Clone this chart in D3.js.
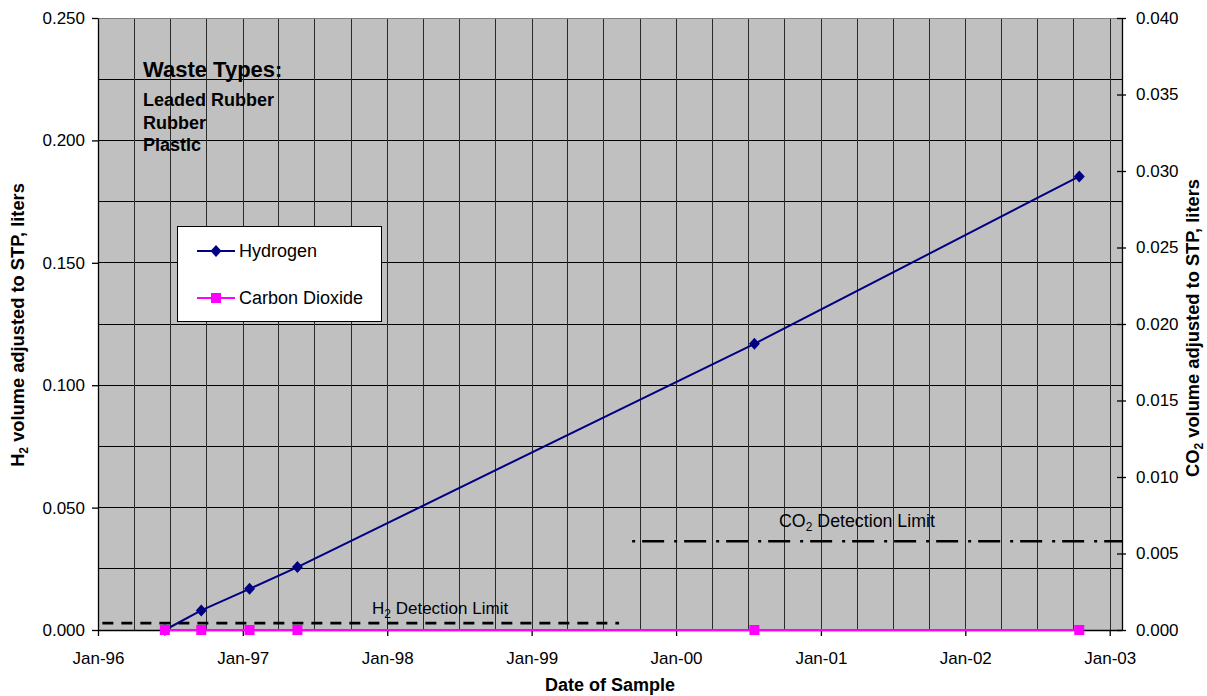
<!DOCTYPE html>
<html><head><meta charset="utf-8">
<script src="https://cdn.jsdelivr.net/npm/d3@7"></script>
<style>
body{margin:0;background:#fff}
svg{display:block}
text{font-family:Arial,"Liberation Sans",sans-serif;fill:#000}
</style></head>
<body><svg id="chart" width="1207" height="696"></svg>
<script>
// ---- data ----
const sampleDates = ["1996-06-18","1996-09-18","1997-01-18","1997-05-19","2000-07-17","2002-10-16"];
const hydrogen = [0.0000, 0.0080, 0.0168, 0.0257, 0.1169, 0.1853];
const carbonDioxide = [0, 0, 0, 0, 0, 0];
const h2LimitDates = ["1996-01-12","1999-08-10"];
const h2LimitValue = 0.0028;
const co2LimitDates = ["1999-09-12","2003-02-01"];
const co2LimitValue = 0.0058;
const xDomain = ["1996-01-01","2003-02-01"];
const xTickDates = ["1996-01-01","1997-01-01","1998-01-01","1999-01-01","2000-01-01","2001-01-01","2002-01-01","2003-01-01"];
const leftTicks = [0, 0.05, 0.10, 0.15, 0.20, 0.25];
const leftGrid = [0.025, 0.05, 0.075, 0.10, 0.125, 0.15, 0.175, 0.20, 0.225];
const rightTicks = [0, 0.005, 0.010, 0.015, 0.020, 0.025, 0.030, 0.035, 0.040];
const seriesNames = ["Hydrogen", "Carbon Dioxide"];
const wasteTitle = "Waste Types:";
const wasteTypes = ["Leaded Rubber", "Rubber", "Plastic"];

// ---- setup ----
const parse = d3.timeParse("%Y-%m-%d");
const svg = d3.select("#chart");
const L = 98, R = 1122, T = 18, B = 630;

const x = d3.scaleTime().domain(xDomain.map(parse)).range([L, R]);
const yL = d3.scaleLinear().domain([0, 0.25]).range([B, T]);
const yR = d3.scaleLinear().domain([0, 0.04]).range([B, T]);

// plot background
svg.append("rect").attr("x", L).attr("y", T).attr("width", R - L).attr("height", B - T).attr("fill", "#C0C0C0");

// gridlines
svg.append("g").selectAll("line").data(leftGrid).join("line")
  .attr("x1", L).attr("x2", R).attr("y1", d => yL(d)).attr("y2", d => yL(d))
  .attr("stroke", "#000").attr("stroke-width", 1).attr("shape-rendering", "crispEdges");
const quarterLines = d3.timeMonth.every(3).range(parse(xDomain[0]), parse(xDomain[1])).slice(1);
svg.append("g").selectAll("line").data(quarterLines).join("line")
  .attr("x1", d => Math.round(x(d)) + 0.5).attr("x2", d => Math.round(x(d)) + 0.5).attr("y1", T).attr("y2", B)
  .attr("stroke", "#2a2a2a").attr("stroke-width", 1);

// top border
svg.append("line").attr("x1", L).attr("x2", R).attr("y1", T + 0.5).attr("y2", T + 0.5).attr("stroke", "#808080");

// axes
const axL = svg.append("g").attr("transform", `translate(${L},0)`)
  .call(d3.axisLeft(yL).tickValues(leftTicks).tickFormat(d3.format(".3f")).tickSize(6).tickSizeOuter(0));
axL.selectAll("text").attr("x", -13).style("font-size", "17px");
const axR = svg.append("g").attr("transform", `translate(${R},0)`)
  .call(d3.axisRight(yR).tickValues(rightTicks).tickFormat(d3.format(".3f")).tickSize(4).tickSizeOuter(0));
axR.selectAll(".tick line").attr("x1", -5).attr("x2", 4);
axR.selectAll("text").attr("x", 14).style("font-size", "17px");
const axB = svg.append("g").attr("transform", `translate(0,${B})`)
  .call(d3.axisBottom(x).tickValues(xTickDates.map(parse)).tickFormat(d3.timeFormat("%b-%y")).tickSize(6).tickSizeOuter(0));
axB.selectAll("text").attr("y", 34).attr("dy", 0).style("font-size", "17px");
[axL, axR, axB].forEach(a => {
  a.attr("font-family", null).attr("font-size", null);
  a.selectAll("line,path").attr("stroke", "#000").attr("stroke-width", 1.3);
});

// detection limits
const limLine = d3.line().x(d => x(d.date)).y(d => d.y);
svg.append("path")
  .attr("d", limLine(h2LimitDates.map(s => ({date: parse(s), y: yL(h2LimitValue)}))))
  .attr("fill", "none").attr("stroke", "#000").attr("stroke-width", 2.6).attr("stroke-dasharray", "11,8");
svg.append("path")
  .attr("d", limLine(co2LimitDates.map(s => ({date: parse(s), y: yR(co2LimitValue)}))))
  .attr("fill", "none").attr("stroke", "#000").attr("stroke-width", 2.6).attr("stroke-dasharray", "3,7,22,10");

function subText(g, xPos, yPos, pre, sub, post, size, weight, anchor, transform) {
  const t = g.append("text").style("font-size", size + "px").style("font-weight", weight);
  if (transform) t.attr("transform", transform); else t.attr("x", xPos).attr("y", yPos);
  if (anchor) t.attr("text-anchor", anchor);
  t.append("tspan").text(pre);
  t.append("tspan").style("font-size", Math.round(size * 0.68) + "px").attr("dy", 4).text(sub);
  t.append("tspan").attr("dy", -4).text(post);
  return t;
}
subText(svg, 372, 614, "H", "2", " Detection Limit", 17, "normal");
subText(svg, 779, 527, "CO", "2", " Detection Limit", 17.8, "normal");

// series
const ptsH = sampleDates.map((s, i) => ({date: parse(s), v: hydrogen[i]}));
const ptsC = sampleDates.map((s, i) => ({date: parse(s), v: carbonDioxide[i]}));
svg.append("path").attr("d", d3.line().x(d => x(d.date)).y(d => yL(d.v))(ptsH))
  .attr("fill", "none").attr("stroke", "#000080").attr("stroke-width", 2);
const diamond = "M0,-6L5.5,0L0,6L-5.5,0Z";
svg.append("g").selectAll("path").data(ptsH).join("path")
  .attr("d", diamond).attr("transform", d => `translate(${x(d.date)},${yL(d.v)})`).attr("fill", "#000080");
svg.append("path").attr("d", d3.line().x(d => x(d.date)).y(d => yR(d.v))(ptsC))
  .attr("fill", "none").attr("stroke", "#FF00FF").attr("stroke-width", 2);
svg.append("g").selectAll("rect").data(ptsC).join("rect")
  .attr("x", d => x(d.date) - 5).attr("y", d => yR(d.v) - 5).attr("width", 10).attr("height", 10).attr("fill", "#FF00FF");

// legend
const lg = svg.append("g");
lg.append("rect").attr("x", 177.5).attr("y", 226.5).attr("width", 204).attr("height", 95)
  .attr("fill", "#fff").attr("stroke", "#000").attr("stroke-width", 1);
const lgY = [251, 298];
lg.append("line").attr("x1", 197).attr("x2", 235).attr("y1", lgY[0]).attr("y2", lgY[0]).attr("stroke", "#000080").attr("stroke-width", 2);
lg.append("path").attr("d", diamond).attr("transform", `translate(216,${lgY[0]})`).attr("fill", "#000080");
lg.append("line").attr("x1", 197).attr("x2", 235).attr("y1", lgY[1]).attr("y2", lgY[1]).attr("stroke", "#FF00FF").attr("stroke-width", 2);
lg.append("rect").attr("x", 211).attr("y", lgY[1] - 5).attr("width", 10).attr("height", 10).attr("fill", "#FF00FF");
seriesNames.forEach((n, i) => lg.append("text").attr("x", 239).attr("y", lgY[i] + 6).style("font-size", "18px").text(n));

// waste types annotation
svg.append("text").attr("x", 143).attr("y", 77).style("font-size", "22px").style("font-weight", "bold").text(wasteTitle);
svg.append("g").selectAll("text").data(wasteTypes).join("text")
  .attr("x", 143).attr("y", (d, i) => 106 + i * 22.5)
  .style("font-size", "18px").style("font-weight", "bold").text(d => d);

// axis titles
svg.append("text").attr("x", 610).attr("y", 691).attr("text-anchor", "middle")
  .style("font-size", "18px").style("font-weight", "bold").text("Date of Sample");
subText(svg, 0, 0, "H", "2", " volume adjusted to STP, liters", 18.3, "bold", "middle", "translate(24,325) rotate(-90)");
subText(svg, 0, 0, "CO", "2", " volume adjusted to STP, liters", 18.3, "bold", "middle", "translate(1199,328) rotate(-90)");
</script>
</body></html>
